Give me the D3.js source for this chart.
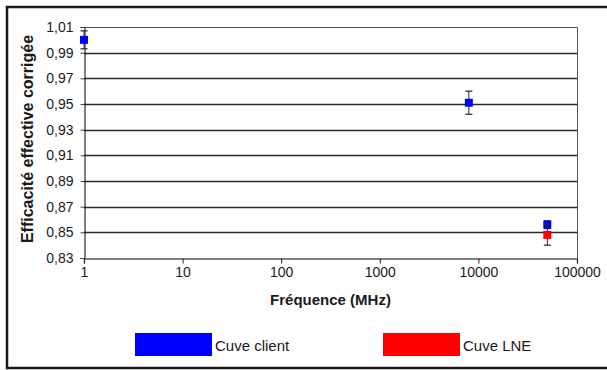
<!DOCTYPE html>
<html>
<head>
<meta charset="utf-8">
<script src="https://cdn.jsdelivr.net/npm/d3@7"></script>
<style>
  body { margin: 0; background: #fff; }
  svg { display: block; font-family: "Liberation Sans", Arial, sans-serif; }
</style>
</head>
<body>
<div id="chart"></div>
<script>
const clientFreq = [1, 8000, 50000];
const clientValues = [1.000, 0.951, 0.856];
const clientErrors = [0.007, 0.009, 0.003];

const lneFreq = [50000];
const lneValues = [0.848];
const lneErrors = [0.008];

const yTicks = [0.83, 0.85, 0.87, 0.89, 0.91, 0.93, 0.95, 0.97, 0.99, 1.01];
const xTicks = [1, 10, 100, 1000, 10000, 100000];
const legendLabels = ['Cuve client', 'Cuve LNE'];
const seriesColors = ['#0000ff', '#ff0000'];

const W = 607, H = 370;
const plot = { left: 84, right: 577, top: 27, bottom: 258 };

const svg = d3.select('#chart').append('svg').attr('width', W).attr('height', H);

// outer frame (right side runs past the picture edge)
svg.append('path')
  .attr('d', `M620,7 H7 V368 H620`)
  .attr('fill', 'none')
  .attr('stroke', '#1a1a1a')
  .attr('stroke-width', 2.5);

const x = d3.scaleLog().domain([1, 100000]).range([plot.left, plot.right]);
const y = d3.scaleLinear().domain([0.83, 1.01]).range([plot.bottom, plot.top]);

// gridlines
svg.append('g')
  .selectAll('line')
  .data(yTicks.slice(1, -1))
  .join('line')
  .attr('x1', plot.left).attr('x2', plot.right)
  .attr('y1', d => Math.round(y(d)) + 0.5).attr('y2', d => Math.round(y(d)) + 0.5)
  .attr('stroke', '#2a2a2a')
  .attr('stroke-width', 1.3);

// plot frame top + right
svg.append('path')
  .attr('d', `M${plot.left},${Math.round(y(1.01)) + 0.5} H${plot.right + 0.5} V${plot.bottom}`)
  .attr('fill', 'none')
  .attr('stroke', '#555')
  .attr('stroke-width', 1);

const fmt = d => d3.format('.2f')(d).replace('.', ',');

// y axis
const yAxis = svg.append('g')
  .attr('transform', `translate(${plot.left + 0.5},0)`)
  .call(d3.axisLeft(y).tickValues(yTicks).tickFormat(fmt).tickSize(4).tickPadding(7));
yAxis.select('.domain').attr('stroke', '#000').attr('stroke-width', 1);
yAxis.selectAll('.tick line').attr('stroke', '#444');
yAxis.selectAll('text').attr('font-size', 14).attr('fill', '#1a1a1a')
  .attr('font-family', '"Liberation Sans", Arial, sans-serif');

// x axis
const xAxis = svg.append('g')
  .attr('transform', `translate(0,${plot.bottom + 0.5})`)
  .call(d3.axisBottom(x).tickValues(xTicks).tickFormat(d3.format('d')).tickSize(5).tickPadding(4));
xAxis.select('.domain').attr('stroke', '#000').attr('stroke-width', 1.2);
xAxis.selectAll('.tick line').attr('stroke', '#222');
xAxis.selectAll('text').attr('font-size', 14).attr('fill', '#1a1a1a')
  .attr('font-family', '"Liberation Sans", Arial, sans-serif');

// axis titles
svg.append('text')
  .attr('transform', `translate(33,139) rotate(-90)`)
  .attr('text-anchor', 'middle')
  .attr('font-size', 16)
  .attr('font-weight', 'bold')
  .attr('fill', '#1a1a1a')
  .text('Efficacité effective corrigée');

svg.append('text')
  .attr('x', (plot.left + plot.right) / 2)
  .attr('y', 305)
  .attr('text-anchor', 'middle')
  .attr('font-size', 15)
  .attr('font-weight', 'bold')
  .attr('fill', '#1a1a1a')
  .text('Fréquence (MHz)');

// error bars + markers
function drawSeries(freq, vals, errs, color) {
  const pts = freq.map((f, i) => ({ f, v: vals[i], e: errs[i] }));
  const g = svg.append('g');
  const eb = g.selectAll('g.eb').data(pts).join('g').attr('class', 'eb');
  eb.append('line')
    .attr('x1', d => x(d.f)).attr('x2', d => x(d.f))
    .attr('y1', d => y(d.v - d.e)).attr('y2', d => y(d.v + d.e))
    .attr('stroke', '#222').attr('stroke-width', 1);
  [-1, 1].forEach(s => {
    eb.append('line')
      .attr('x1', d => x(d.f) - 3.5).attr('x2', d => x(d.f) + 3.5)
      .attr('y1', d => y(d.v + s * d.e)).attr('y2', d => y(d.v + s * d.e))
      .attr('stroke', '#222').attr('stroke-width', 1.2);
  });
  g.selectAll('rect').data(pts).join('rect')
    .attr('x', d => x(d.f) - 4).attr('y', d => y(d.v) - 4)
    .attr('width', 8).attr('height', 8)
    .attr('fill', color);
}
drawSeries(clientFreq, clientValues, clientErrors, seriesColors[0]);
drawSeries(lneFreq, lneValues, lneErrors, seriesColors[1]);

// legend
const legendX = [135, 383];
const legend = svg.append('g');
legendLabels.forEach((lab, i) => {
  legend.append('rect')
    .attr('x', legendX[i]).attr('y', 333)
    .attr('width', 77).attr('height', 23)
    .attr('fill', seriesColors[i]);
  legend.append('text')
    .attr('x', legendX[i] + 80).attr('y', 351)
    .attr('font-size', 15)
    .attr('fill', '#1a1a1a')
    .text(lab);
});
</script>
</body>
</html>
